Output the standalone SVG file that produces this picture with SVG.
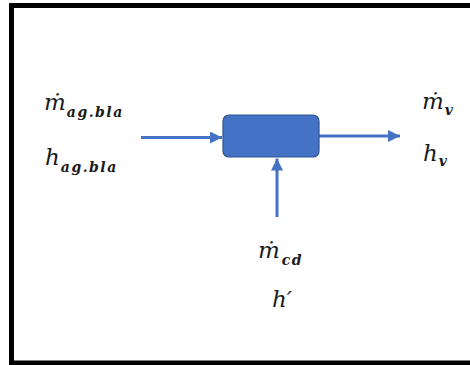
<svg xmlns="http://www.w3.org/2000/svg" width="470" height="365" viewBox="0 0 470 365">
<defs>
<style>
.m{font-family:"DejaVu Serif","Liberation Serif",serif;font-style:italic;fill:#1a1a1a}
.big{font-size:23px}
.sub{font-size:14px;font-weight:bold;letter-spacing:1.5px}
.conn{stroke:#4472C4;stroke-width:3;fill:none}
</style>
<marker id="ah" viewBox="0 0 10 10" refX="10" refY="5" markerWidth="4" markerHeight="4" markerUnits="strokeWidth" orient="auto">
<path d="M0,0 L10,5 L0,10 z" fill="#4472C4"/>
</marker>
</defs>
<rect width="470" height="365" fill="#ffffff"/>
<g id="frame" fill="none" stroke="#000" stroke-width="5">
<path d="M470,5.5 H11.5 V365"/>
<path d="M11.5,363 H470"/>
</g>
<g id="connectors">
<line class="conn" x1="141" y1="137.5" x2="222" y2="137.5" marker-end="url(#ah)"/>
<line class="conn" x1="319" y1="136" x2="400" y2="136" marker-end="url(#ah)"/>
<line class="conn" x1="277" y1="217" x2="277" y2="158.5" marker-end="url(#ah)"/>
</g>
<g id="block">
<rect x="223" y="115" width="96" height="42" rx="6" ry="6" fill="#4472C4" stroke="#2F528F" stroke-width="1.2"/>
</g>
<g id="in-label">
<text class="m big" x="44" y="110">ṁ<tspan class="sub" dy="7" dx="1">ag.bla</tspan></text>
<text class="m big" x="45" y="165">h<tspan class="sub" dy="7" dx="1">ag.bla</tspan></text>
</g>
<g id="out-label">
<text class="m big" x="422" y="109">ṁ<tspan class="sub" dy="6" dx="1">v</tspan></text>
<text class="m big" x="423" y="161">h<tspan class="sub" dy="5" dx="1">v</tspan></text>
</g>
<g id="bottom-label">
<text class="m big" x="258" y="258">ṁ<tspan class="sub" dy="7" dx="2">cd</tspan></text>
<text class="m big" x="272" y="307">h′</text>
</g>
</svg>
